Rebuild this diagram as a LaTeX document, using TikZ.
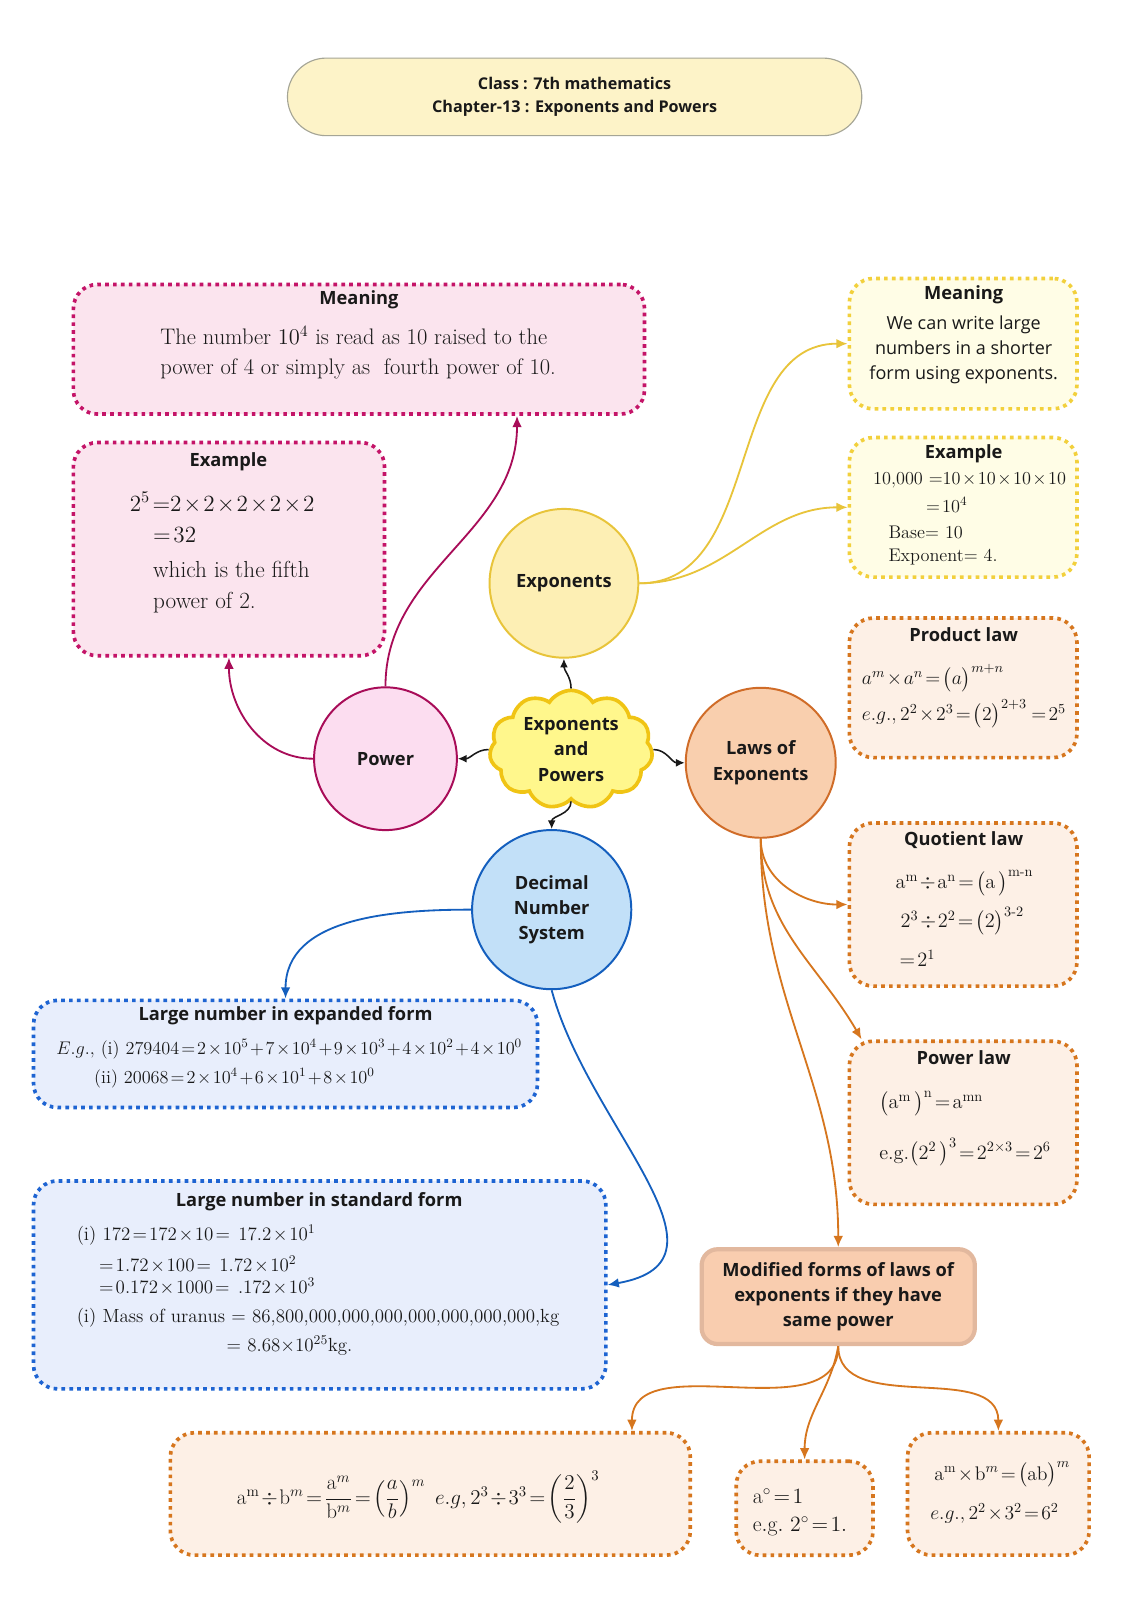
\documentclass[tikz,border=0pt]{standalone}
\usepackage{fix-cm}
\usepackage{amsmath}
\usepackage{fontspec}
\setsansfont{Open Sans}
\usetikzlibrary{calc, shapes.geometric, shapes.symbols, positioning, arrows.meta}
\definecolor{ink}{RGB}{25,25,25}
\definecolor{titlefill}{RGB}{253,243,200}
\definecolor{titleline}{RGB}{165,165,150}
\definecolor{pinkfill}{RGB}{251,228,238}
\definecolor{pinkline}{RGB}{196,20,104}
\definecolor{powfill}{RGB}{252,221,240}
\definecolor{powline}{RGB}{168,12,88}
\definecolor{yelfill}{RGB}{255,253,230}
\definecolor{yelline}{RGB}{242,208,60}
\definecolor{expfill}{RGB}{253,239,180}
\definecolor{expline}{RGB}{232,196,58}
\definecolor{cloudfill}{RGB}{255,247,140}
\definecolor{cloudline}{RGB}{240,196,20}
\definecolor{orfill}{RGB}{253,240,230}
\definecolor{orline}{RGB}{214,118,30}
\definecolor{lawfill}{RGB}{249,207,174}
\definecolor{lawline}{RGB}{208,108,40}
\definecolor{modfill}{RGB}{249,205,175}
\definecolor{modline}{RGB}{226,184,158}
\definecolor{bluefill}{RGB}{232,238,252}
\definecolor{blueline}{RGB}{30,100,210}
\definecolor{decfill}{RGB}{194,224,248}
\definecolor{decline}{RGB}{20,95,190}
\medmuskip=1.5mu
\thickmuskip=2mu
\tikzset{
  notebox/.style={rounded corners=0.6cm, line width=2.6pt, dash pattern=on 2.6pt off 3pt, inner sep=0pt},
  pinkbox/.style={notebox, draw=pinkline, fill=pinkfill},
  yelbox/.style={notebox, draw=yelline, fill=yelfill},
  orbox/.style={notebox, draw=orline, fill=orfill},
  bluebox/.style={notebox, draw=blueline, fill=bluefill},
  topic/.style={circle, line width=1.4pt, inner sep=0pt, align=center, text=ink, font=\sffamily\bfseries\fontsize{13}{18}\selectfont},
  boxhead/.style={text=ink, inner sep=0pt, font=\sffamily\bfseries\fontsize{13}{16}\selectfont},
  txtline/.style={anchor=west, text=ink, inner sep=0pt},
  hub/.style={line width=1.1pt, draw=ink, -{Latex[length=2.2mm,width=2mm]}},
  link/.style={line width=1.3pt, -{Latex[length=2.8mm,width=2.4mm]}}
}

\begin{document}
\begin{tikzpicture}[x=0.0255cm, y=-0.0255cm]
\useasboundingbox (0,0) rectangle (1109,1569);
\fill[white] (0,0) rectangle (1109,1569);

% title
\node[draw=titleline, fill=titlefill, line width=0.8pt, rounded corners=0.97cm, minimum width=14.36cm, minimum height=1.94cm, align=center, text=ink, font=\sffamily\bfseries\fontsize{11.5}{16}\selectfont] (title) at (563.5,95) {Class : 7th mathematics\\Chapter-13 : Exponents and Powers};

% boxes
\node[pinkbox, minimum width=14.28cm, minimum height=3.24cm] (pmean) at (352,342.5) {};
\node[pinkbox, minimum width=7.78cm, minimum height=5.33cm] (pexam) at (224.5,538.5) {};
\node[yelbox, minimum width=5.69cm, minimum height=3.26cm] (ymean) at (944.5,337) {};
\node[yelbox, minimum width=5.69cm, minimum height=3.49cm] (yexam) at (944.5,497.5) {};
\node[orbox, minimum width=5.69cm, minimum height=3.49cm] (prod) at (944.5,674.5) {};
\node[orbox, minimum width=5.69cm, minimum height=4.08cm] (quot) at (944.5,887) {};
\node[orbox, minimum width=5.69cm, minimum height=4.08cm] (plaw) at (944.5,1101) {};
\node[orbox, minimum width=13.0cm, minimum height=3.06cm] (mdiv) at (422,1465) {};
\node[orbox, minimum width=3.42cm, minimum height=2.35cm] (mzero) at (789,1479) {};
\node[orbox, minimum width=4.54cm, minimum height=3.06cm] (mmul) at (979,1465) {};
\node[bluebox, minimum width=12.6cm, minimum height=2.68cm] (lexp) at (280,1033.5) {};
\node[bluebox, minimum width=14.31cm, minimum height=5.2cm] (lstd) at (313.5,1260) {};
\node[draw=modline, fill=modfill, line width=3pt, rounded corners=0.4cm, minimum width=6.83cm, minimum height=2.37cm, align=center, text=ink, font=\sffamily\bfseries\fontsize{13}{18}\selectfont] (modi) at (822,1271.5) {Modified forms of laws of\\exponents if they have\\same power};

% topics
\node[cloud, cloud puffs=11, cloud puff arc=115, aspect=1.4, draw=cloudline, fill=cloudfill, line width=2.6pt, minimum width=4.08cm, minimum height=2.96cm, inner sep=0pt, align=center, text=ink, font=\sffamily\bfseries\fontsize{13}{18}\selectfont] (core) at (560,735) {Exponents\\and\\Powers};
\node[topic, draw=expline, fill=expfill, minimum size=3.72cm] (expo) at (553,572) {Exponents};
\node[topic, draw=powline, fill=powfill, minimum size=3.57cm] (power) at (378,744) {Power};
\node[topic, draw=lawline, fill=lawfill, minimum size=3.75cm] (laws) at (746,748) {Laws of\\Exponents};
\node[topic, draw=decline, fill=decfill, minimum size=3.98cm] (decimal) at (541,892) {Decimal\\Number\\System};

% headings
\node[boxhead] (hpm) at (352,294) {Meaning};
\node[boxhead] (hpx) at (224,453) {Example};
\node[boxhead] (hym) at (945,289) {Meaning};
\node[boxhead] (hyx) at (945,445) {Example};
\node[boxhead] (hpr) at (945,622) {Product law};
\node[boxhead] (hqu) at (945,824) {Quotient law};
\node[boxhead] (hpl) at (945,1037) {Power law};
\node[boxhead] (hle) at (280,996) {Large number in expanded form};
\node[boxhead] (hls) at (313,1178) {Large number in standard form};

% power side
\node[txtline, font=\fontsize{16}{18}\selectfont] (pm1) at (157,329) {The number $10^{4}$ is read as 10 raised to the};
\node[txtline, font=\fontsize{16}{18}\selectfont] (pm2) at (157,362) {power of 4 or simply as\ \ fourth power of 10.};
\node[txtline, font=\fontsize{16.5}{18}\selectfont] (px1) at (127,493) {$2^{5}\;{=}2\times2\times2\times2\times2$};
\node[txtline, font=\fontsize{16.5}{18}\selectfont] (px2) at (150,525) {$=32$};
\node[txtline, font=\fontsize{16.5}{18}\selectfont] (px3) at (150,558) {which is the fifth};
\node[txtline, font=\fontsize{16.5}{18}\selectfont] (px4) at (150,591) {power of 2.};

% exponents side
\node[align=center, text=ink, inner sep=0pt, font=\sffamily\fontsize{12.8}{18}\selectfont] (ym1) at (945,343) {We can write large\\numbers in a shorter\\form using exponents.};
\node[txtline, font=\fontsize{13}{15}\selectfont] (ye1) at (856,471) {$10{,}000\ {=}10\times10\times10\times10$};
\node[txtline, font=\fontsize{13}{15}\selectfont] (ye2) at (908,495) {$=10^{4}$};
\node[txtline, font=\fontsize{13}{15}\selectfont] (ye3) at (871,522) {Base= 10};
\node[txtline, font=\fontsize{13}{15}\selectfont] (ye4) at (871,546) {Exponent= 4.};

% laws
\node[txtline, font=\fontsize{14}{16}\selectfont] (pr1) at (845,665) {$a^{m}\times a^{n}=\big(a\big)^{m+n}$};
\node[txtline, font=\fontsize{14}{16}\selectfont] (pr2) at (845,700) {$e.g.,2^{2}\times2^{3}=\big(2\big)^{2+3}\;=2^{5}$};
\node[txtline, font=\fontsize{14.5}{16}\selectfont] (qu1) at (878,866) {$\mathrm{a}^{\mathrm{m}}\div\mathrm{a}^{\mathrm{n}}=\big(\mathrm{a}\,\big)^{\text{m-n}}$};
\node[txtline, font=\fontsize{14.5}{16}\selectfont] (qu2) at (883,903) {$2^{3}\div2^{2}=\big(2\big)^{\text{3-2}}$};
\node[txtline, font=\fontsize{14.5}{16}\selectfont] (qu3) at (882,940) {$=2^{1}$};
\node[txtline, font=\fontsize{14.5}{16}\selectfont] (pl1) at (862,1082) {$\big(\mathrm{a}^{\mathrm{m}}\,\big)^{\mathrm{n}}=\mathrm{a}^{\mathrm{mn}}$};
\node[txtline, font=\fontsize{14.5}{16}\selectfont] (pl2) at (862,1130) {$\mathrm{e.g.}\big(2^{2}\,\big)^{3}=2^{2\times3}=2^{6}$};

% modified forms
\node[text=ink, inner sep=0pt, font=\fontsize{15}{17}\selectfont] (md1) at (410,1468) {$\mathrm{a}^{\mathrm{m}}\div\mathrm{b}^{m}=\dfrac{\mathrm{a}^{m}}{\mathrm{b}^{m}}=\left(\dfrac{a}{b}\right)^{m}\ e.g,2^{3}\div3^{3}=\left(\dfrac{2}{3}\right)^{3}$};
\node[txtline, font=\fontsize{15.5}{17}\selectfont] (mz1) at (738,1467) {$\mathrm{a}^{\circ}=1$};
\node[txtline, font=\fontsize{15.5}{17}\selectfont] (mz2) at (738,1497) {$\mathrm{e.g.}\ 2^{\circ}=1.$};
\node[txtline, font=\fontsize{14}{16}\selectfont] (mm1) at (916,1446) {$\mathrm{a}^{\mathrm{m}}\times\mathrm{b}^{m}=\big(\mathrm{ab}\big)^{m}$};
\node[txtline, font=\fontsize{14}{16}\selectfont] (mm2) at (912,1484) {$e.g.,2^{2}\times3^{2}=6^{2}$};

% decimal number system
\node[txtline, font=\fontsize{13}{15}\selectfont] (le1) at (55,1029) {$E.g.,$ (i) $279404=2\times10^{5}+7\times10^{4}+9\times10^{3}+4\times10^{2}+4\times10^{0}$};
\node[txtline, font=\fontsize{13}{15}\selectfont] (le2) at (92,1057) {(ii) $20068=2\times10^{4}+6\times10^{1}+8\times10^{0}$};
\node[txtline, font=\fontsize{13.5}{15}\selectfont] (ls1) at (75,1211) {(i) $172=172\times10=\ 17.2\times10^{1}$};
\node[txtline, font=\fontsize{13.5}{15}\selectfont] (ls2) at (97,1240) {$=1.72\times100=\ 1.72\times10^{2}$};
\node[txtline, font=\fontsize{13.5}{15}\selectfont] (ls3) at (97,1262) {$=0.172\times1000=\ .172\times10^{3}$};
\node[txtline, font=\fontsize{13.5}{15}\selectfont] (ls4) at (75,1292) {(i) Mass of uranus $=$ 86,800,000,000,000,000,000,000,000,kg};
\node[txtline, font=\fontsize{13.5}{15}\selectfont] (ls5) at (222,1320) {$=$ 8.68$\times10^{25}$kg.};

% connectors
\draw[hub] (core.north) to[out=90,in=-90] (expo.south);
\draw[hub] (core.west) to[out=180,in=0] (power.east);
\draw[hub] (core.east) to[out=0,in=180] (laws.west);
\draw[hub] (core.south) to[out=-90,in=90] (decimal.north);

\draw[link, draw=expline] (expo.east) to[out=0,in=180] (ymean.west);
\draw[link, draw=expline] (expo.east) to[out=0,in=180] (yexam.west);
\draw[link, draw=powline] (power.north) to[out=90,in=-90] ($(pmean.south)!0.55!(pmean.south east)$);
\draw[link, draw=powline] (power.west) to[out=180,in=-90] (pexam.south);
\draw[link, draw=orline] (laws.south) to[out=-90,in=180] (quot.west);
\draw[link, draw=orline] (laws.south) to[out=-90,in=120] ([xshift=0.35cm]plaw.north west);
\draw[link, draw=orline] (laws.south) to[out=-90,in=90] (modi.north);
\draw[link, draw=decline] (decimal.west) to[out=180,in=90] (lexp.north);
\draw[link, draw=decline] (decimal.south) to[out=-75,in=10,looseness=1.2] (lstd.east);
\draw[link, draw=orline] (modi.south) to[out=-90,in=90] ($(mdiv.north)!0.77!(mdiv.north east)$);
\draw[link, draw=orline] (modi.south) to[out=-100,in=90] (mzero.north);
\draw[link, draw=orline] (modi.south) to[out=-90,in=90] (mmul.north);
\end{tikzpicture}
\end{document}
